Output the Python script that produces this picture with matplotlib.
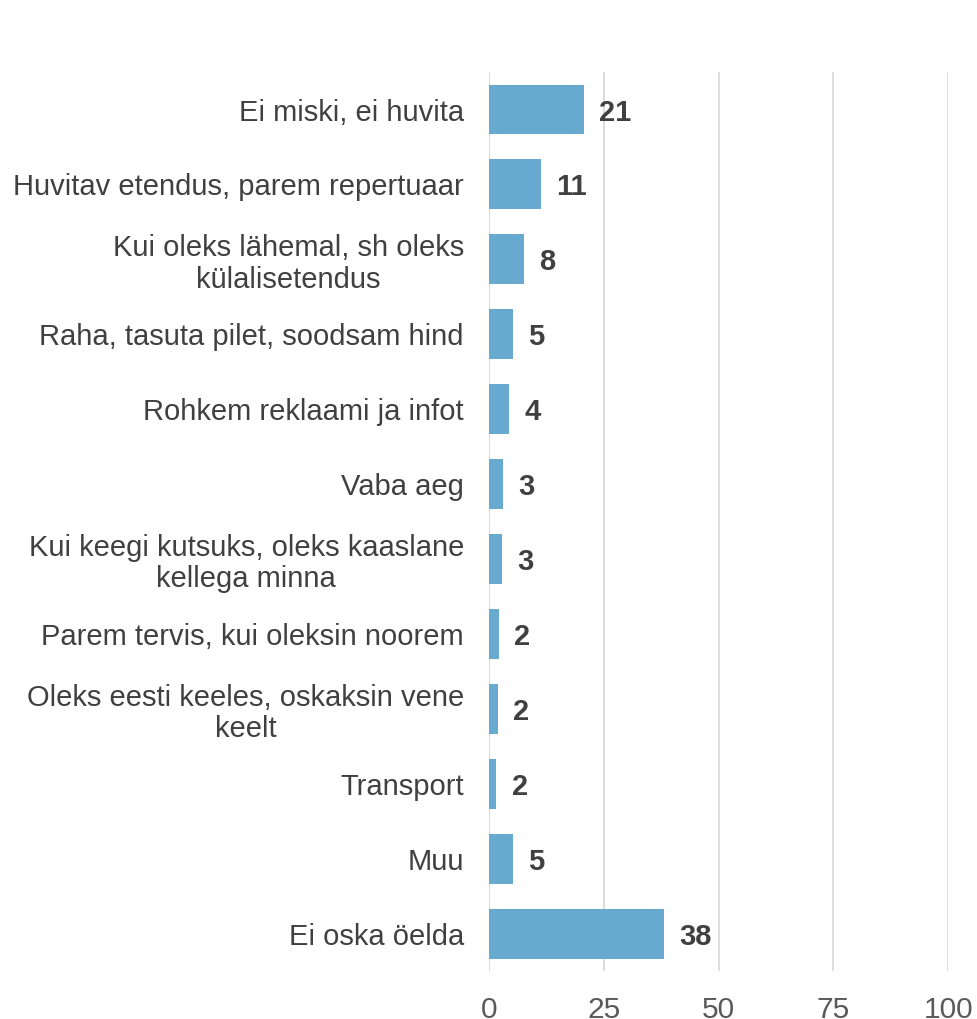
import matplotlib.pyplot as plt
import numpy as np

plt.rcParams['font.family'] = ['Liberation Sans', 'DejaVu Sans']

categories = [
    'Ei miski, ei huvita',
    'Huvitav etendus, parem repertuaar',
    'Kui oleks lähemal, sh oleks\nkülalisetendus',
    'Raha, tasuta pilet, soodsam hind',
    'Rohkem reklaami ja infot',
    'Vaba aeg',
    'Kui keegi kutsuks, oleks kaaslane\nkellega minna',
    'Parem tervis, kui oleksin noorem',
    'Oleks eesti keeles, oskaksin vene\nkeelt',
    'Transport',
    'Muu',
    'Ei oska öelda',
]
values = [20.6, 11.3, 7.6, 5.2, 4.4, 3.0, 2.8, 2.2, 2.0, 1.6, 5.2, 38.2]
xticks = [0, 25, 50, 75, 100]

bar_color = '#68A9D0'
text_color = '#404040'
tick_color = '#595959'

fig = plt.figure(figsize=(9.78, 10.19), dpi=100)
ax = fig.add_axes([0.5, 0.0471, 0.4696, 0.8822])

y = np.arange(len(categories))
ax.barh(y, values, height=0.667, color=bar_color, zorder=2)

for yi, v in zip(y, values):
    ax.annotate(f'{v:.0f}', (v, yi), xytext=(11, 0), textcoords='offset points',
                va='center_baseline', ha='left', fontsize=21, fontweight='bold',
                color=text_color)

ax.set_xlim(0, 100)
ax.set_ylim(len(categories) - 0.5, -0.5)
ax.set_xticks(xticks)
ax.set_xticklabels([str(t) for t in xticks])
ax.set_yticks(y)
ax.set_yticklabels(categories, linespacing=1.15, multialignment='center')

ax.grid(axis='x', color='#D9D9D9', linewidth=1.3, zorder=0)
for s in ax.spines.values():
    s.set_visible(False)
ax.tick_params(axis='x', length=0, pad=18, labelsize=21.5, labelcolor=tick_color)
ax.tick_params(axis='y', length=0, pad=18, labelsize=21, labelcolor=text_color)

fig.savefig('out.png', dpi=100)
